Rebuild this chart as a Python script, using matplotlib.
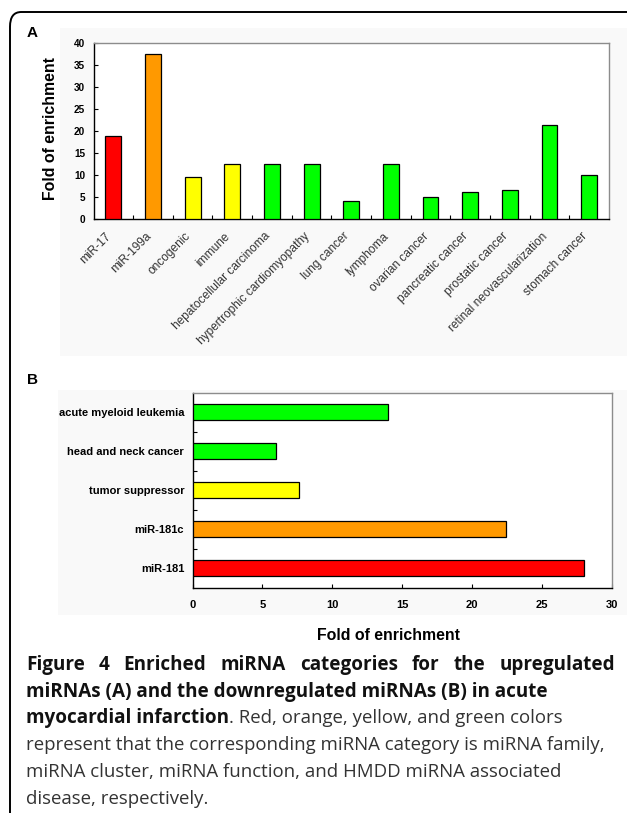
import matplotlib
matplotlib.use("Agg")
import matplotlib.pyplot as plt
from matplotlib.patches import FancyBboxPatch, Rectangle
from matplotlib.transforms import ScaledTranslation

W, H = 627, 813

# Panel A: enrichment of upregulated miRNA categories
cats_a = ["miR-17", "miR-199a", "oncogenic", "immune", "hepatocellular carcinoma",
          "hypertrophic cardiomyopathy", "lung cancer", "lymphoma", "ovarian cancer",
          "pancreatic cancer", "prostatic cancer", "retinal neovascularization",
          "stomach cancer"]
vals_a = [18.8, 37.5, 9.6, 12.5, 12.5, 12.5, 4.1, 12.5, 5.0, 6.2, 6.6, 21.4, 10.1]
kind_a = ["family", "cluster", "function", "function", "disease", "disease", "disease",
          "disease", "disease", "disease", "disease", "disease", "disease"]

# Panel B: enrichment of downregulated miRNA categories (bottom to top)
cats_b = ["miR-181", "miR-181c", "tumor suppressor", "head and neck cancer",
          "acute myeloid leukemia"]
vals_b = [28.0, 22.4, 7.6, 6.0, 14.0]
kind_b = ["family", "cluster", "function", "disease", "disease"]

kind_colors = {"family": "#ff0000", "cluster": "#ff9900",
               "function": "#ffff00", "disease": "#00ff00"}

ARIAL = ["Liberation Sans", "DejaVu Sans"]
CAPTION = ["Open Sans", "DejaVu Sans"]


def fx(x):
    return x / W


def fy(y):
    return 1 - y / H


fig = plt.figure(figsize=(W / 100, H / 100), dpi=100)
fig.patch.set_facecolor("white")

# rounded outer frame, open at right and bottom
frame = FancyBboxPatch((fx(10), fy(H + 30)), fx(W + 30), (H + 30 - 12) / H,
                       boxstyle="round,pad=0,rounding_size=0.018",
                       transform=fig.transFigure, facecolor="none",
                       edgecolor="black", linewidth=1.4, clip_on=False, zorder=-1)
fig.patches.append(frame)

# faint grey chart areas behind each panel
fig.patches.append(Rectangle((fx(60), fy(356)), fx(W - 60), (356 - 28) / H,
                             transform=fig.transFigure, facecolor="#f9f9f9",
                             edgecolor="none", zorder=-5))
fig.patches.append(Rectangle((fx(58), fy(615)), fx(W - 58), (615 - 390) / H,
                             transform=fig.transFigure, facecolor="#f9f9f9",
                             edgecolor="none", zorder=-5))


def style_frame(ax):
    ax.set_facecolor("white")
    ax.set_zorder(2)
    for side in ("left", "bottom"):
        ax.spines[side].set_color("black")
        ax.spines[side].set_linewidth(1.0)
    for side in ("top", "right"):
        ax.spines[side].set_color("#8c8c8c")
        ax.spines[side].set_linewidth(1.0)


# ---- panel A ----
axA = fig.add_axes([fx(93.5), fy(219.3), fx(609 - 93.5), (219.3 - 42.7) / H])
style_frame(axA)
xa = list(range(len(cats_a)))
axA.bar(xa, vals_a, width=0.4, color=[kind_colors[k] for k in kind_a],
        edgecolor="black", linewidth=0.9, zorder=3)
axA.set_xlim(-0.5, len(cats_a) - 0.5)
axA.set_ylim(0, 40)
axA.set_yticks(range(0, 41, 5))
axA.set_yticklabels([str(v) for v in range(0, 41, 5)], family=ARIAL,
                    fontweight="bold", fontsize=7.2)
axA.tick_params(axis="y", direction="in", length=3, width=0.8, pad=6)
axA.set_xticks(xa)
axA.set_xticklabels(cats_a, rotation=45, ha="right", va="top",
                    rotation_mode="anchor", family=ARIAL, fontsize=8.6,
                    color="#333333")
axA.tick_params(axis="x", length=0, pad=8)
# nudge the slanted labels left so they end just before each bar
shift = ScaledTranslation(-0.08, 0, fig.dpi_scale_trans)
for lab in axA.get_xticklabels():
    lab.set_transform(lab.get_transform() + shift)
axA.set_xticks([i + 0.5 for i in xa[:-1]], minor=True)
axA.tick_params(axis="x", which="minor", direction="in", length=3, width=0.8)

fig.text(fx(51), fy(128.5), "Fold of enrichment", family=ARIAL, fontweight="bold",
         fontsize=11.4, rotation=90, ha="center", va="center")
fig.text(fx(32), fy(33), "A", family=ARIAL, fontweight="bold", fontsize=11,
         ha="center", va="center")

# ---- panel B ----
axB = fig.add_axes([fx(192.5), fy(587.8), fx(612.3 - 192.5), (587.8 - 392.7) / H])
style_frame(axB)
yb = list(range(len(cats_b)))
axB.barh(yb, vals_b, height=0.41, color=[kind_colors[k] for k in kind_b],
         edgecolor="black", linewidth=0.9, zorder=3)
axB.set_ylim(-0.5, len(cats_b) - 0.5)
axB.set_xlim(0, 30)
axB.set_yticks(yb)
axB.set_yticklabels(cats_b, family=ARIAL, fontweight="bold", fontsize=8)
axB.tick_params(axis="y", length=0, pad=6)
axB.set_yticks([i + 0.5 for i in yb[:-1]], minor=True)
axB.tick_params(axis="y", which="minor", direction="in", length=3, width=0.8)
axB.set_xticks(range(0, 31, 5))
axB.set_xticklabels([str(v) for v in range(0, 31, 5)], family=ARIAL,
                    fontweight="bold", fontsize=8)
axB.tick_params(axis="x", direction="in", length=3, width=0.8, pad=9)

fig.text(fx(388), fy(636), "Fold of enrichment", family=ARIAL, fontweight="bold",
         fontsize=11.4, ha="center", va="center")
fig.text(fx(32), fy(380), "B", family=ARIAL, fontweight="bold", fontsize=11,
         ha="center", va="center")

# ---- caption ----
renderer = fig.canvas.get_renderer()
left_px, right_px = 26, 615
bold_kw = dict(family=CAPTION, fontweight="bold", fontsize=13.6, color="#111111",
               va="baseline", ha="left")
reg_kw = dict(family=CAPTION, fontsize=13.4, color="#333333",
              va="baseline", ha="left")


def width_px(t):
    return t.get_window_extent(renderer=renderer).width


# first line is fully justified
words = "Figure 4 Enriched miRNA categories for the upregulated".split()
objs = [fig.text(0, fy(670), w, **bold_kw) for w in words]
widths = [width_px(o) for o in objs]
gap = (right_px - left_px - sum(widths)) / (len(words) - 1)
x = left_px
for o, w in zip(objs, widths):
    o.set_x(fx(x))
    x += w + gap

fig.text(fx(left_px), fy(697), "miRNAs (A) and the downregulated miRNAs (B) in acute",
         **bold_kw)
t_b = fig.text(fx(left_px), fy(723), "myocardial infarction", **bold_kw)
fig.text(fx(left_px + width_px(t_b)), fy(723),
         ". Red, orange, yellow, and green colors", **reg_kw)
fig.text(fx(left_px), fy(750),
         "represent that the corresponding miRNA category is miRNA family,", **reg_kw)
fig.text(fx(left_px), fy(777),
         "miRNA cluster, miRNA function, and HMDD miRNA associated", **reg_kw)
fig.text(fx(left_px), fy(804), "disease, respectively.", **reg_kw)

fig.savefig("out.png", dpi=100)
